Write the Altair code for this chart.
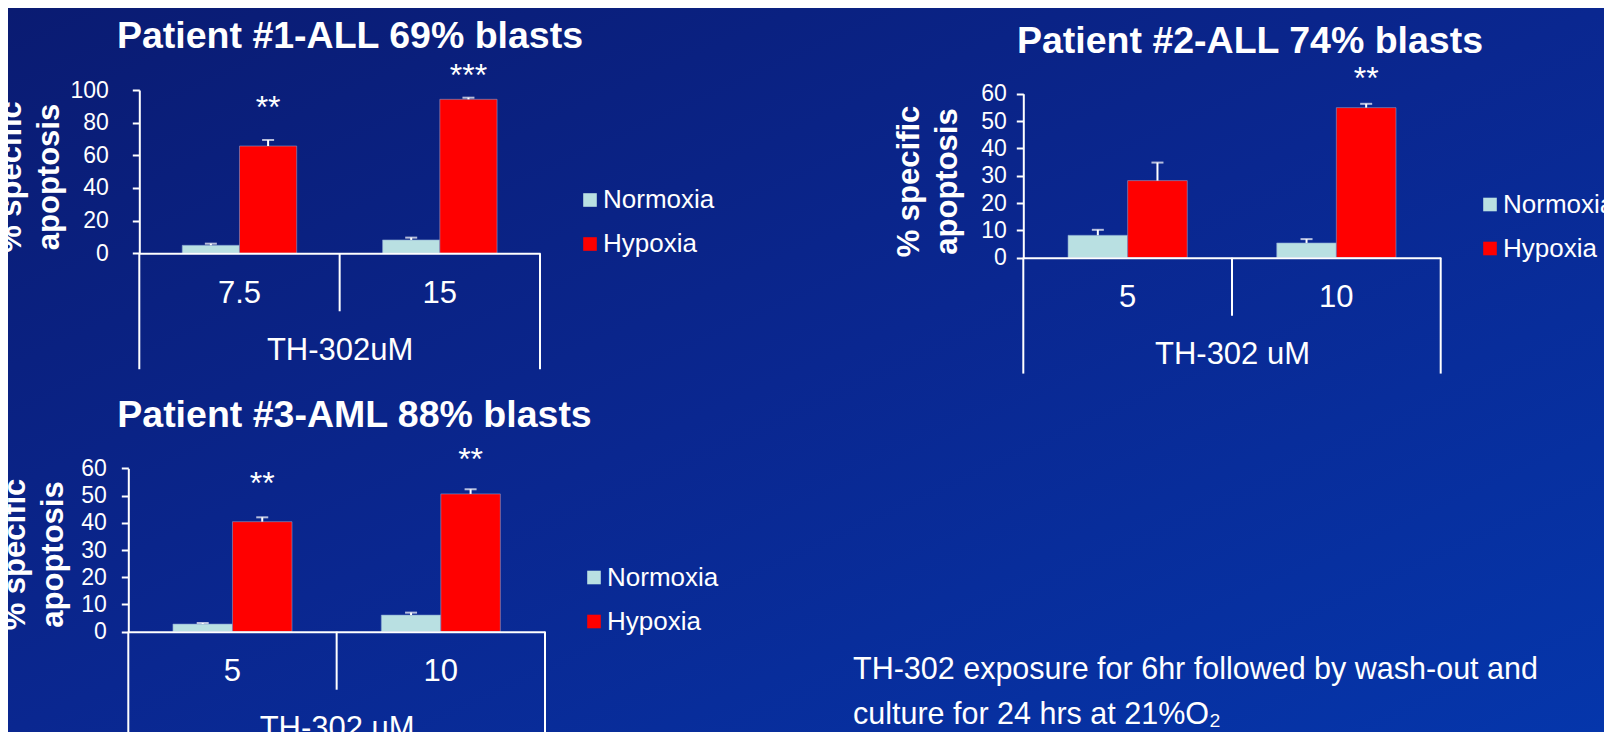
import altair as alt
import pandas as pd

# ---------------- data ----------------
conditions = ["Normoxia", "Hypoxia"]
condition_colors = ["#b9e0e2", "#ff0000"]

p1_title = "Patient #1-ALL 69% blasts"
p1_doses = ["7.5", "15"]
p1_normoxia = [4.9, 8.2]
p1_normoxia_err = [1.0, 1.4]
p1_hypoxia = [65.7, 94.3]
p1_hypoxia_err = [3.7, 1.0]
p1_stars = ["**", "***"]
p1_star_y = [92.3, 111.8]
p1_axis_title = "TH-302uM"

p2_title = "Patient #2-ALL 74% blasts"
p2_doses = ["5", "10"]
p2_normoxia = [8.2, 5.4]
p2_normoxia_err = [2.0, 1.4]
p2_hypoxia = [28.2, 54.9]
p2_hypoxia_err = [6.6, 1.4]
p2_stars = ["", "**"]
p2_star_y = [None, 67.3]
p2_axis_title = "TH-302 uM"

p3_title = "Patient #3-AML 88% blasts"
p3_doses = ["5", "10"]
p3_normoxia = [2.8, 6.1]
p3_normoxia_err = [0.4, 0.9]
p3_hypoxia = [40.4, 50.6]
p3_hypoxia_err = [1.6, 1.7]
p3_stars = ["**", "**"]
p3_star_y = [55.9, 64.8]
p3_axis_title = "TH-302 uM"

y_title = ["% specific", "apoptosis"]
y_ticks_100 = [0, 20, 40, 60, 80, 100]
y_ticks_60 = [0, 10, 20, 30, 40, 50, 60]

note_lines = ["TH-302 exposure for 6hr followed by wash-out and",
              "culture for 24 hrs at 21%O\u2082"]

# ---------------- layout / style ----------------
W, H = 1596, 724
FONT = "Liberation Sans"
WHITE = "#ffffff"

geo = {
    1: dict(xr=[131.3, 532.0], yr=[245.3, 82.0], ymax=100, ticks=y_ticks_100, lpad=24,
            ytx=-128, yty=168.5, lx=569, ly=179, div=-35.5, outer=-71.0,
            tx=342, ty=40.3),
    2: dict(xr=[1015.3, 1432.7], yr=[249.7, 85.7], ymax=60, ticks=y_ticks_60, lpad=10,
            ytx=-114, yty=173, lx=1469, ly=183.5, div=-21.2, outer=-42.4,
            tx=1242, ty=45.3),
    3: dict(xr=[120.3, 537.0], yr=[623.7, 460.3], ymax=60, ticks=y_ticks_60, lpad=15,
            ytx=-113, yty=546, lx=573, ly=556.5, div=-21.3, outer=-42.6,
            tx=346.5, ty=418.7),
}


def make_panel(doses, norm, norm_err, hyp, hyp_err, stars, star_y, xtitle, title, g):
    rows = []
    for i, d in enumerate(doses):
        rows.append({"dose": d, "condition": "Normoxia", "value": norm[i],
                     "hi": norm[i] + norm_err[i]})
        rows.append({"dose": d, "condition": "Hypoxia", "value": hyp[i],
                     "hi": hyp[i] + hyp_err[i]})
    df = pd.DataFrame(rows)
    star_df = pd.DataFrame({"dose": doses, "condition": ["Hypoxia"] * len(doses),
                            "star": stars, "star_y": star_y}).dropna()

    xscale = alt.Scale(domain=doses, range=g["xr"], paddingInner=0, paddingOuter=0)
    yscale = alt.Scale(domain=[0, g["ymax"]], range=g["yr"], nice=False, zero=True)
    oscale = alt.Scale(domain=conditions, paddingInner=0, paddingOuter=0.75)

    x_axis = alt.Axis(orient="bottom", offset=g["yr"][0] - H, ticks=False, grid=False,
                      zindex=1,
                      domainColor=WHITE, domainWidth=2, labelColor=WHITE,
                      labelFontSize=31, labelAngle=0, labelPadding=40,
                      labelBaseline="middle", labelFont=FONT,
                      title=xtitle, titleColor=WHITE, titleFontSize=31,
                      titleFontWeight="normal", titleFont=FONT, titleY=97,
                      titleBaseline="middle")
    y_axis = alt.Axis(orient="left", offset=-g["xr"][0], values=g["ticks"], grid=False,
                      zindex=1,
                      domainColor=WHITE, domainWidth=2, tickColor=WHITE, tickWidth=2,
                      tickSize=7, labelColor=WHITE, labelFontSize=23,
                      labelPadding=g["lpad"], labelFont=FONT,
                      title=y_title, titleColor=WHITE, titleFontSize=31,
                      titleFontWeight="bold", titleFont=FONT, titleAngle=270,
                      titleAlign="center", titleBaseline="middle", titleLineHeight=38,
                      titleX=g["ytx"], titleY=g["yty"])

    base = alt.Chart(df)
    bars = base.mark_bar(stroke="#7f9ccf", strokeWidth=0.6).encode(
        x=alt.X("dose:N", scale=xscale, axis=x_axis),
        xOffset=alt.XOffset("condition:N", scale=oscale),
        y=alt.Y("value:Q", scale=yscale, axis=y_axis),
        color=alt.Color("condition:N",
                        scale=alt.Scale(domain=conditions, range=condition_colors),
                        legend=alt.Legend(orient="none", legendX=g["lx"], legendY=g["ly"],
                                          title=None, symbolType="square", symbolSize=185,
                                          symbolStrokeWidth=0, labelColor=WHITE,
                                          labelFontSize=26, labelFont=FONT, labelOffset=0,
                                          rowPadding=18, padding=0)),
    )
    stems = base.mark_rule(color=WHITE, strokeWidth=2).encode(
        x=alt.X("dose:N", scale=xscale),
        xOffset=alt.XOffset("condition:N", scale=oscale),
        y=alt.Y("value:Q", scale=yscale),
        y2="hi:Q",
    )
    caps = base.mark_tick(color=WHITE, thickness=2, size=12).encode(
        x=alt.X("dose:N", scale=xscale),
        xOffset=alt.XOffset("condition:N", scale=oscale),
        y=alt.Y("hi:Q", scale=yscale),
    )
    star_txt = alt.Chart(star_df).mark_text(color=WHITE, fontSize=32, font=FONT,
                                            baseline="alphabetic", dy=15).encode(
        x=alt.X("dose:N", scale=xscale),
        xOffset=alt.XOffset("condition:N", scale=oscale),
        y=alt.Y("star_y:Q", scale=yscale),
        text="star:N",
    )
    left_line = alt.Chart(pd.DataFrame({"dose": [doses[0]]})).mark_rule(
        color=WHITE, strokeWidth=2).encode(
        x=alt.X("dose:N", scale=xscale, bandPosition=0),
        y=alt.datum(0), y2=alt.datum(g["outer"]))
    right_line = alt.Chart(pd.DataFrame({"dose": [doses[-1]]})).mark_rule(
        color=WHITE, strokeWidth=2).encode(
        x=alt.X("dose:N", scale=xscale, bandPosition=1),
        y=alt.datum(0), y2=alt.datum(g["outer"]))
    mid_line = alt.Chart(pd.DataFrame({"dose": doses[1:]})).mark_rule(
        color=WHITE, strokeWidth=2).encode(
        x=alt.X("dose:N", scale=xscale, bandPosition=0),
        y=alt.datum(0), y2=alt.datum(g["div"]))
    ttl = alt.Chart(pd.DataFrame({"t": [title]})).mark_text(
        color=WHITE, fontSize=37.5, fontWeight="bold", font=FONT,
        baseline="alphabetic", align="center").encode(
        x=alt.value(g["tx"]), y=alt.value(g["ty"]), text="t:N")
    return alt.layer(bars, stems, caps, star_txt, left_line, right_line, mid_line, ttl)


panel1 = make_panel(p1_doses, p1_normoxia, p1_normoxia_err, p1_hypoxia, p1_hypoxia_err,
                    p1_stars, p1_star_y, p1_axis_title, p1_title, geo[1])
panel2 = make_panel(p2_doses, p2_normoxia, p2_normoxia_err, p2_hypoxia, p2_hypoxia_err,
                    p2_stars, p2_star_y, p2_axis_title, p2_title, geo[2])
panel3 = make_panel(p3_doses, p3_normoxia, p3_normoxia_err, p3_hypoxia, p3_hypoxia_err,
                    p3_stars, p3_star_y, p3_axis_title, p3_title, geo[3])

gradient = alt.LinearGradient(
    gradient="linear",
    stops=[alt.GradientStop(color="#0a1b72", offset=0),
           alt.GradientStop(color="#0a2790", offset=0.5),
           alt.GradientStop(color="#0536ab", offset=1)],
    x1=0, y1=0, x2=1, y2=1)
bg = alt.Chart(pd.DataFrame({"a": [0]})).mark_rect(fill=gradient).encode(
    x=alt.value(0), x2=alt.value(W), y=alt.value(0), y2=alt.value(H))

note = alt.Chart(pd.DataFrame({"t": [note_lines]})).mark_text(
    color=WHITE, fontSize=30.5, font=FONT, align="left", baseline="alphabetic",
    lineHeight=45).encode(x=alt.value(845), y=alt.value(671), text="t")

chart = alt.layer(bg, panel1, panel2, panel3, note).resolve_scale(
    x="independent", y="independent", xOffset="independent", color="independent"
).properties(
    width=W, height=H, padding=0,
    autosize=alt.AutoSizeParams(type="none"),
    background="#0a2288",
).configure_view(stroke=None).configure(font=FONT)

chart.save("out.html", embed_options={"renderer": "svg", "actions": False})
